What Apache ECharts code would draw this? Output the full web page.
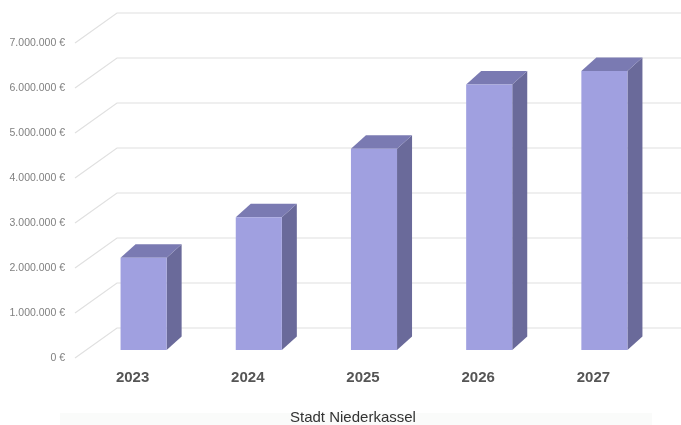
<!DOCTYPE html>
<html>
<head>
<meta charset="utf-8">
<script src="https://cdn.jsdelivr.net/npm/echarts@6/dist/echarts.min.js"></script>
<style>
html,body{margin:0;padding:0;background:#fff;}
#chart{width:681px;height:425px;}
</style>
</head>
<body>
<div id="chart"></div>
<script>
const years = ['2023', '2024', '2025', '2026', '2027'];
const values = [2050000, 2950000, 4470000, 5900000, 6200000];
const yTicks = [0, 1000000, 2000000, 3000000, 4000000, 5000000, 6000000, 7000000];
const seriesName = 'Stadt Niederkassel';

const WALL_DX = 42, WALL_DY = 30;
const BAR_OFFX = 11, BAR_OFFY = 8;
const BAR_DX = 15, BAR_DY = 13.5;
const FRONT = '#a0a0e0', TOP = '#7a7ab2', SIDE = '#6a6a9a';

function fmt(v) {
  return String(v).replace(/\B(?=(\d{3})+(?!\d))/g, '.') + ' \u20ac';
}

const chart = echarts.init(document.getElementById('chart'), null, {renderer: 'canvas'});
chart.setOption({
  animation: false,
  backgroundColor: '#ffffff',
  graphic: [{
    type: 'rect', left: 60, top: 413, z: -10,
    shape: {width: 592, height: 12},
    style: {fill: '#fafbfa'}
  }],
  title: {
    text: seriesName,
    left: 290,
    top: 410,
    padding: 0,
    textStyle: {fontFamily: 'Liberation Sans, Arial, sans-serif', fontSize: 15, fontWeight: 'normal', color: '#333'}
  },
  grid: {left: 75, right: 30, top: 43, bottom: 67},
  xAxis: {
    type: 'category',
    data: years,
    axisLine: {show: false},
    axisTick: {show: false},
    splitLine: {show: false},
    axisLabel: {
      margin: 12,
      fontFamily: 'Liberation Sans, Arial, sans-serif',
      fontSize: 15, fontWeight: 'bold', color: '#555'
    }
  },
  yAxis: {
    type: 'value',
    min: 0, max: 7000000, interval: 1000000,
    axisLine: {show: false},
    axisTick: {show: false},
    splitLine: {show: false},
    axisLabel: {
      margin: 10,
      fontFamily: 'Liberation Sans, Arial, sans-serif',
      fontSize: 10.5, color: '#808080',
      formatter: fmt
    }
  },
  series: [{
    type: 'custom',
    name: 'walls',
    clip: false,
    silent: true,
    z: 1,
    data: yTicks.map(t => [0, t]),
    renderItem: function (params, api) {
      const cs = params.coordSys;
      const y = api.coord([0, api.value(1)])[1];
      const x0 = cs.x;
      return {
        type: 'polyline',
        shape: {points: [[x0, y], [x0 + WALL_DX, y - WALL_DY], [x0 + cs.width + WALL_DX + 40, y - WALL_DY]]},
        style: {stroke: '#e0e0e0', lineWidth: 1.2, fill: null}
      };
    }
  }, {
    type: 'custom',
    name: seriesName,
    clip: false,
    z: 2,
    data: values.map((v, i) => [i, v]),
    renderItem: function (params, api) {
      const i = api.value(0), v = api.value(1);
      const base = api.coord([i, 0]);
      const top = api.coord([i, v]);
      const bw = api.size([1, 0])[0] * 0.4;
      const x0 = base[0] - bw / 2 + BAR_OFFX;
      const x1 = x0 + bw;
      const yb = base[1] - BAR_OFFY;
      const yt = top[1] - BAR_OFFY;
      return {
        type: 'group',
        children: [{
          type: 'polygon',
          shape: {points: [[x1, yb], [x1 + BAR_DX, yb - BAR_DY], [x1 + BAR_DX, yt - BAR_DY], [x1, yt]]},
          style: {fill: SIDE}
        }, {
          type: 'polygon',
          shape: {points: [[x0, yt], [x0 + BAR_DX, yt - BAR_DY], [x1 + BAR_DX, yt - BAR_DY], [x1, yt]]},
          style: {fill: TOP}
        }, {
          type: 'rect',
          shape: {x: x0, y: yt, width: bw, height: yb - yt},
          style: {fill: FRONT}
        }]
      };
    }
  }]
});
</script>
</body>
</html>
